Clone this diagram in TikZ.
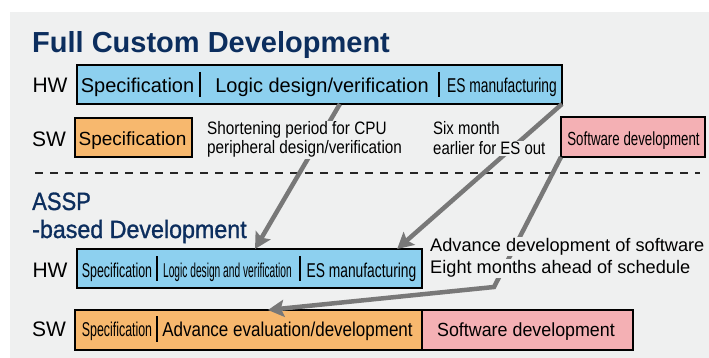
\documentclass[tikz,border=0pt]{standalone}
\usepackage{fontspec}
\usepackage{graphicx}
\setmainfont{Liberation Sans}
\newfontfamily\mediumfont[FakeBold=1.2]{Liberation Sans}
\usetikzlibrary{calc,arrows.meta}
\definecolor{bggray}{HTML}{EFF0F0}
\definecolor{hwblue}{HTML}{8DD0EF}
\definecolor{sworange}{HTML}{F7B86E}
\definecolor{swpink}{HTML}{F4B0B4}
\definecolor{navy}{HTML}{0C2E5E}
\definecolor{arrowgray}{HTML}{787878}
\tikzset{>=stealth}
\newcommand{\squeeze}[2]{\scalebox{#1}[1]{#2}}

\begin{document}
\begin{tikzpicture}[x=1pt,y=-1pt,
    box/.style={draw=black,line width=2pt,inner sep=0pt,outer sep=0pt},
    boxtext/.style={anchor=base,inner sep=0pt,font=\fontsize{20}{24}\selectfont},
    rowlabel/.style={anchor=base,inner sep=0pt,font=\fontsize{21}{25}\selectfont},
    heading/.style={anchor=base west,inner sep=0pt,text=navy},
    note/.style={anchor=base west,fill=bggray,inner xsep=2pt,inner ysep=1pt,font=\fontsize{18}{22}\selectfont},
    arr/.style={line width=4.5pt,draw=arrowgray,-{Stealth[length=16pt,width=17pt,inset=3pt]}},
    divider/.style={line width=1.2pt}]
    \useasboundingbox (0,0) rectangle (709,358);
    \fill[bggray] (10,12) rectangle (709,358);

    % full custom development
    \node[heading,font=\fontsize{29}{34}\selectfont\bfseries] (fullTitle) at (32,53) {Full Custom Development};
    \node[rowlabel] (hwFullLabel) at (50,93) {HW};
    \node[rowlabel] (swFullLabel) at (49,147) {SW};

    \node[box,fill=hwblue,minimum width=485pt,minimum height=39pt] (hwFull) at (319.5,84.5) {};
    \node[boxtext] (hwFullSpec) at (137.5,93) {Specification};
    \node[boxtext] (hwFullLogic) at (322,93) {Logic design/verification};
    \node[boxtext] (hwFullES) at (502,93) {\squeeze{0.69}{ES manufacturing}};
    \draw[divider] (200,72) -- (200,97);
    \draw[divider] (439,72) -- (439,97);

    \node[box,fill=sworange,minimum width=117pt,minimum height=39pt] (swFullSpec) at (133.5,137.5) {};
    \node[boxtext,font=\fontsize{19}{23}\selectfont] (swFullSpecText) at (132.5,146) {Specification};
    \node[box,fill=swpink,minimum width=144pt,minimum height=40pt] (swdFull) at (633,137) {};
    \node[boxtext,font=\fontsize{19}{23}\selectfont] (swdFullText) at (633.5,145.5) {\squeeze{0.70}{Software development}};

    \draw[line width=2pt,black!85,dash pattern=on 8pt off 7pt] (35,173) -- (700,173);

    % ASSP-based development
    \node[heading,font=\fontsize{25}{30}\mediumfont] (asspTitleA) at (32,210) {\squeeze{0.88}{ASSP}};
    \node[heading,font=\fontsize{25}{30}\mediumfont] (asspTitleB) at (32,238) {\squeeze{0.93}{-based Development}};
    \node[rowlabel] (hwAsspLabel) at (50,277) {HW};
    \node[rowlabel] (swAsspLabel) at (49,336) {SW};

    \node[box,fill=hwblue,minimum width=345pt,minimum height=39pt] (hwAssp) at (249.5,268.5) {};
    \node[boxtext] (hwAsspSpec) at (117,277) {\squeeze{0.62}{Specification}};
    \node[boxtext] (hwAsspLogic) at (227.5,277) {\squeeze{0.51}{Logic design and verification}};
    \node[boxtext] (hwAsspES) at (361.5,277) {\squeeze{0.69}{ES manufacturing}};
    \draw[divider] (157,256) -- (157,281);
    \draw[divider] (300,256) -- (300,281);

    \node[box,fill=sworange,minimum width=347pt,minimum height=40pt] (swAssp) at (248.5,330) {};
    \node[boxtext] (swAsspSpec) at (117,336) {\squeeze{0.62}{Specification}};
    \node[boxtext] (swAsspEval) at (287.5,336) {\squeeze{0.85}{Advance evaluation/development}};
    \draw[divider] (157,316) -- (157,342);
    \node[box,fill=swpink,minimum width=211pt,minimum height=40pt] (swdAssp) at (527.5,330) {};
    \node[boxtext,font=\fontsize{19}{23}\selectfont] (swdAsspText) at (526,336) {\squeeze{0.94}{Software development}};

    % gains
    \coordinate (bend) at (494,287);
    \draw[arr] ($(hwFull.south west)!0.542!(hwFull.south east)$) -- ($(hwAssp.north west)!0.516!(hwAssp.north east)$);
    \draw[arr] (hwFull.south east) -- ($(hwAssp.north west)!0.928!(hwAssp.north east)$);
    \draw[arr] (swdFull.south west) -- (bend) -- ($(swAssp.north west)!0.556!(swAssp.north east)$);

    \node[note] (shortA) at (205,135) {\squeeze{0.85}{Shortening period for CPU}};
    \node[note] (shortB) at (205,154) {\squeeze{0.85}{peripheral design/verification}};
    \node[note] (sixA) at (431,135) {\squeeze{0.83}{Six month}};
    \node[note] (sixB) at (431,155) {\squeeze{0.83}{earlier for ES out}};
    \node[note,font=\fontsize{18.2}{22}\selectfont] (advA) at (428,251) {Advance development of software};
    \node[note,font=\fontsize{18.2}{22}\selectfont] (advB) at (428,273) {Eight months ahead of schedule};
\end{tikzpicture}
\end{document}
